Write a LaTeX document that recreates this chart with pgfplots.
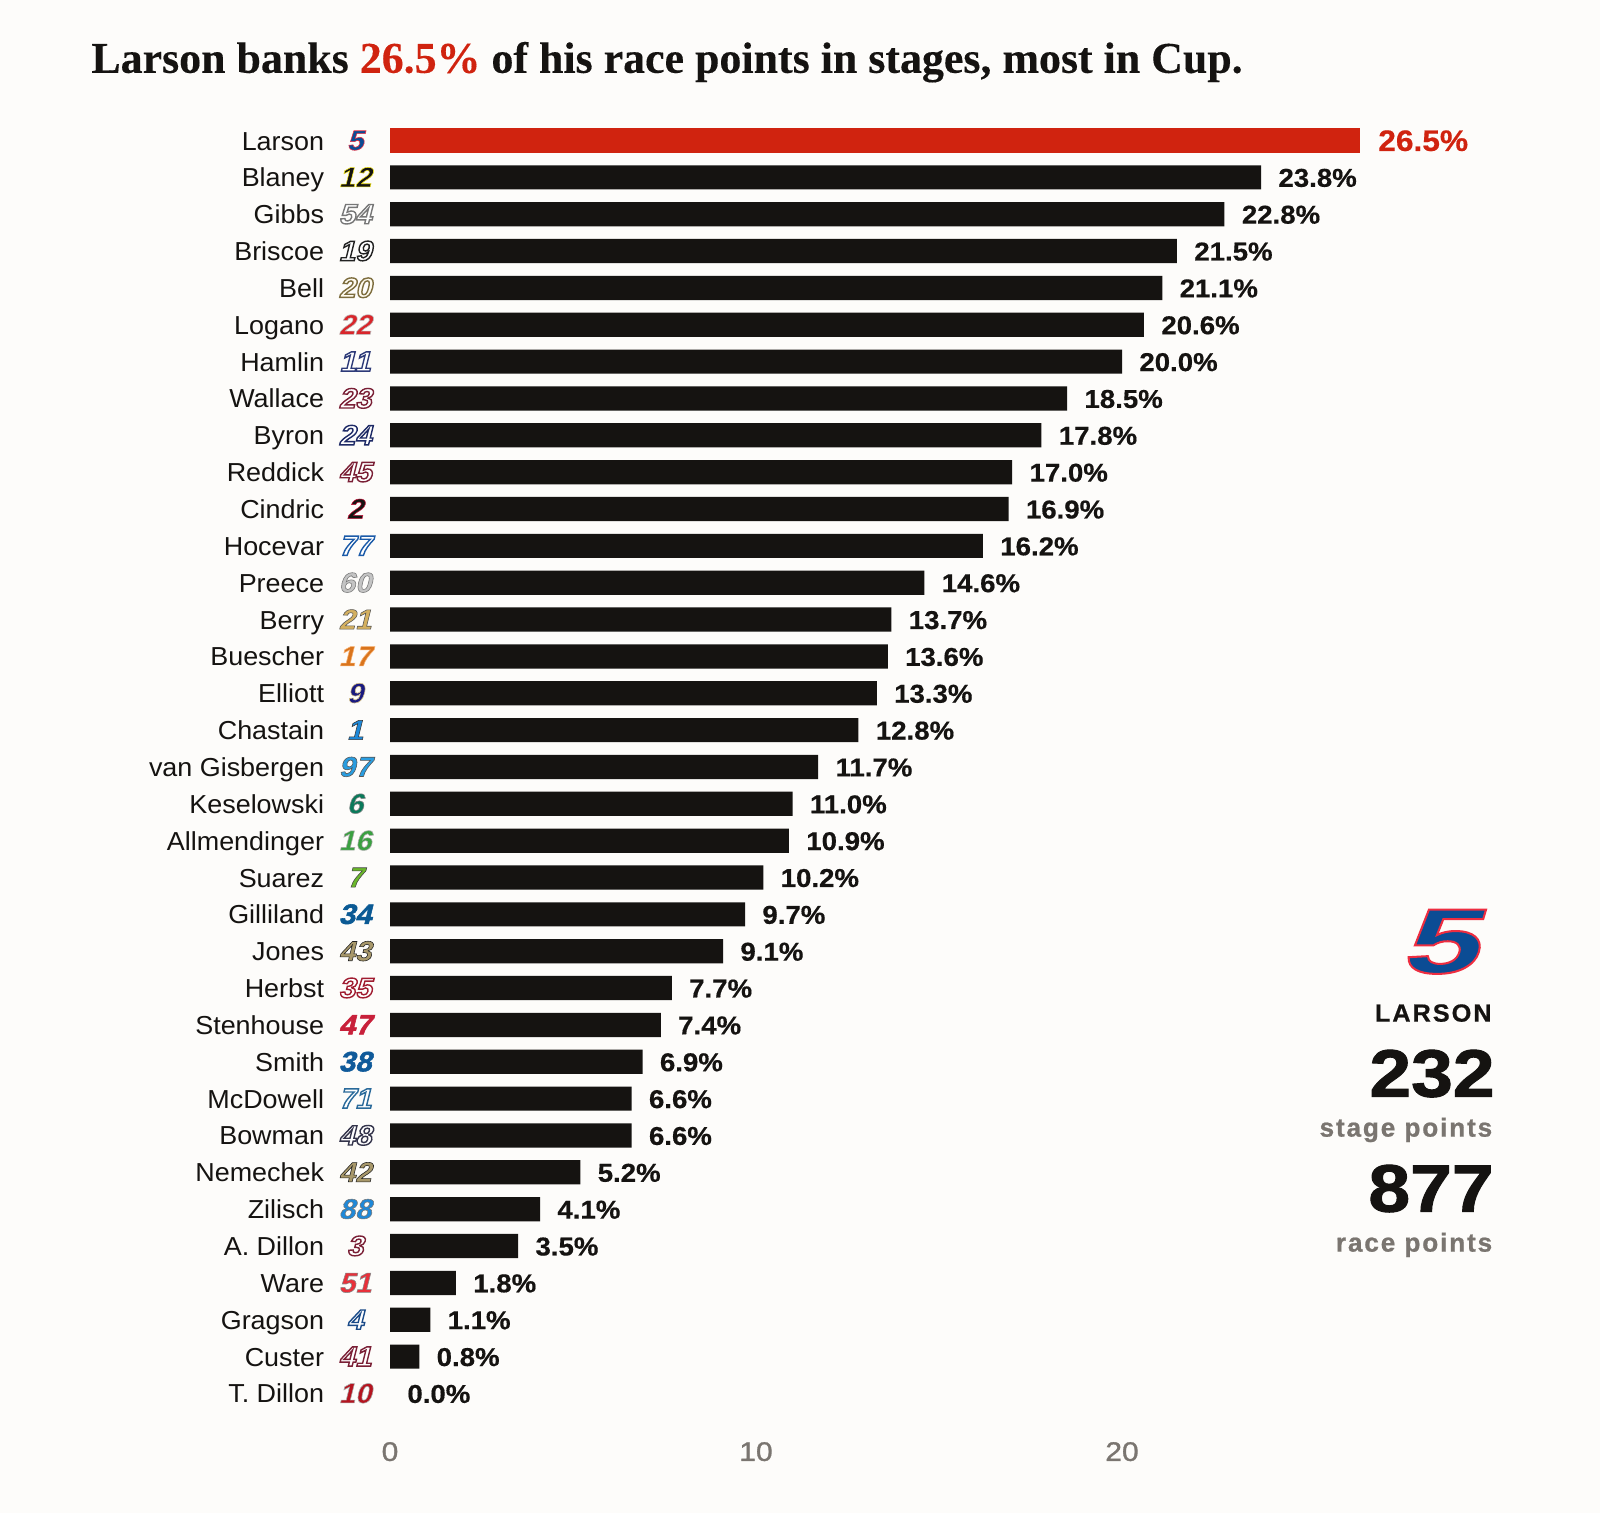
\documentclass[border=0pt]{standalone}
\usepackage{fontspec}
\usepackage{pgfplots}
\pgfplotsset{compat=1.18}
\setmainfont{Liberation Sans}
\newfontface\titlefont{Liberation Serif Bold}[FakeBold=0.25]
\newfontface\namefont{Liberation Sans}[FakeStretch=1.035]
\newfontface\valfont{Liberation Sans Bold}[FakeStretch=1.07,FakeBold=0.5]
\newfontface\tickfont{Liberation Sans}[FakeStretch=1.12,FakeBold=1.2]
\newfontface\capsfont{Liberation Sans Bold}[LetterSpace=8,FakeStretch=1.02,FakeBold=0.6]
\newfontface\bignum{Liberation Sans Bold}[FakeStretch=1.12,FakeBold=1.5]
\newfontface\subfont{Liberation Sans Bold}[LetterSpace=7,FakeBold=0.8]
\newfontface\badgeO{Liberation Sans Bold}[FakeStretch=1.05,FakeSlant=0.25,FakeBold=5]
\newfontface\badgeT{Liberation Sans Bold}[FakeStretch=1.05,FakeSlant=0.25,FakeBold=2]
\newfontface\logoO{Liberation Sans Bold}[FakeStretch=1.5,FakeSlant=0.3,FakeBold=2.2]
\definecolor{bg}{HTML}{FDFCFA}
\definecolor{ink}{HTML}{151311}
\definecolor{hot}{HTML}{D0230F}
\definecolor{mute}{HTML}{7A7570}
% a number with fill #1 and outline #2, set as one text
\def\spacedrgb#1,#2,#3\relax{#1 #2 #3}
\newcommand{\twotone}[3]{\convertcolorspec{HTML}{#1}{rgb}\tmpF\convertcolorspec{HTML}{#2}{rgb}\tmpS
  \edef\tmpF{\expandafter\spacedrgb\tmpF\relax}\edef\tmpS{\expandafter\spacedrgb\tmpS\relax}%
  \special{pdf:bcolor [\tmpF] [\tmpS]}#3\special{pdf:ecolor}}
% \nm: white number with a strong outline; \nt: solid number with a thin outline
\newcommand{\nm}[4]{#1\hspace{5.5pt}\makebox[20pt][c]{\fontsize{14}{14}\badgeO\twotone{#2}{#3}{#4}}}
\newcommand{\nt}[4]{#1\hspace{5.5pt}\makebox[20pt][c]{\fontsize{14}{14}\badgeT\twotone{#2}{#3}{#4}}}
\begin{document}
\begin{tikzpicture}
\path[use as bounding box,fill=bg] (0,0) rectangle (800pt,-756.5pt);
\node[anchor=base west,inner sep=0,text=ink,font=\fontsize{21.95}{24}\titlefont] at (45.5pt,-36.4pt)
  {Larson banks \textcolor{hot}{26.5\%} of his race points in stages, most in Cup.};
\begin{axis}[
  at={(195pt,-61.05pt)},anchor=north west,
  scale only axis,width=549pt,height=644.875pt,
  xmin=0,xmax=30,ymin=-0.5,ymax=34.5,y dir=reverse,
  clip=false,
  axis line style={draw=none},
  major tick length=0pt,
  xtick={0,10,20},xticklabels={0,10,20},
  xticklabel style={anchor=base,text=mute,font=\fontsize{13.4}{14}\tickfont,yshift=-24.5pt},
  ytick={0,...,34},
  yticklabels={
   {\nt{Larson}{0B4C94}{EE2D40}{5}},{\nt{Blaney}{151311}{F2E51C}{12}},{\nm{Gibbs}{FFFFFF}{777777}{54}},
   {\nm{Briscoe}{FFFFFF}{222222}{19}},{\nm{Bell}{FFFBEF}{7D6D3E}{20}},{\nt{Logano}{D9252A}{BBBBBB}{22}},
   {\nm{Hamlin}{FFFFFF}{2D3A78}{11}},{\nm{Wallace}{FFFFFF}{7A1F35}{23}},{\nm{Byron}{FFFFFF}{1E2A66}{24}},
   {\nm{Reddick}{FFFFFF}{7A1F35}{45}},{\nt{Cindric}{151311}{C2143A}{2}},{\nm{Hocevar}{FFFFFF}{1A5AA8}{77}},
   {\nt{Preece}{C4C4C4}{777777}{60}},{\nt{Berry}{D4B060}{555555}{21}},{\nt{Buescher}{D9741C}{F7B070}{17}},
   {\nt{Elliott}{1A1A80}{D9C48A}{9}},{\nt{Chastain}{1E88D8}{333333}{1}},{\nt{van Gisbergen}{2A9DE0}{555555}{97}},
   {\nt{Keselowski}{0A7A5A}{888888}{6}},{\nt{Allmendinger}{3AA040}{AAAAAA}{16}},{\nt{Suarez}{6AB82A}{444444}{7}},
   {\nt{Gilliland}{0B5A94}{0B5A94}{34}},{\nt{Jones}{A8986A}{222222}{43}},{\nm{Herbst}{FFFFFF}{A01C30}{35}},
   {\nt{Stenhouse}{C8203A}{C8203A}{47}},{\nt{Smith}{0F5A9A}{0F5A9A}{38}},{\nm{McDowell}{FFFFFF}{2A6A9A}{71}},
   {\nm{Bowman}{FFFFFF}{33334A}{48}},{\nt{Nemechek}{A8986A}{222222}{42}},{\nt{Zilisch}{1E88D8}{777777}{88}},
   {\nm{A. Dillon}{FFFFFF}{7A1F35}{3}},{\nt{Ware}{E8303A}{888888}{51}},{\nm{Gragson}{FFFFFF}{1A4A88}{4}},
   {\nm{Custer}{FFFFFF}{7A1F35}{41}},{\nt{T. Dillon}{B5141F}{AAAAAA}{10}}},
  yticklabel style={anchor=base east,text=ink,font=\fontsize{13}{14}\namefont,yshift=-4.75pt,xshift=-3.95pt},
  /pgf/number format/fixed,/pgf/number format/fixed zerofill,/pgf/number format/precision=1,
  /pgf/number format/assume math mode=true,
  nodes near coords={\pgfmathprintnumber{\pgfplotspointmeta}\%},
  point meta=x,
  nodes near coords align=horizontal,
]
\addplot[xbar,bar shift=0pt,bar width=12.1pt,fill=hot,draw=none,
  every node near coord/.append style={anchor=base west,inner sep=0,text=hot,xshift=9pt,yshift=-5.2pt,font=\fontsize{14.8}{16}\valfont}]
 coordinates {(26.5,0)};
\addplot[xbar,bar shift=0pt,bar width=12.1pt,fill=ink,draw=none,
  every node near coord/.append style={anchor=base west,inner sep=0,text=ink,xshift=8.5pt,yshift=-4.7pt,font=\fontsize{12.9}{14}\valfont}]
 coordinates {(23.8,1)(22.8,2)(21.5,3)(21.1,4)(20.6,5)(20.0,6)(18.5,7)(17.8,8)(17.0,9)(16.9,10)
 (16.2,11)(14.6,12)(13.7,13)(13.6,14)(13.3,15)(12.8,16)(11.7,17)(11.0,18)(10.9,19)(10.2,20)
 (9.7,21)(9.1,22)(7.7,23)(7.4,24)(6.9,25)(6.6,26)(6.6,27)(5.2,28)(4.1,29)(3.5,30)(1.8,31)(1.1,32)(0.8,33)};
\addplot[xbar,bar shift=0pt,bar width=12.1pt,fill=none,draw=none,
  every node near coord/.append style={anchor=base west,inner sep=0,text=ink,xshift=8.5pt,yshift=-4.7pt,font=\fontsize{12.9}{14}\valfont}]
 coordinates {(0.0,34)};
\end{axis}
\node[anchor=base,inner sep=0,font=\fontsize{46}{48}\logoO] at (719pt,-486.5pt) {\twotone{0B4C94}{EE2D40}{5}};
\node[anchor=base east,inner sep=0,text=ink,font=\fontsize{12.4}{14}\capsfont] at (746pt,-510.8pt) {LARSON};
\node[anchor=base east,inner sep=0,text=ink,font=\fontsize{33.5}{36}\bignum] at (747.5pt,-548.3pt) {232};
\node[anchor=base east,inner sep=0,text=mute,font=\fontsize{13.1}{14}\subfont] at (746.3pt,-568.3pt) {stage points};
\node[anchor=base east,inner sep=0,text=ink,font=\fontsize{33.5}{36}\bignum] at (747pt,-605.8pt) {877};
\node[anchor=base east,inner sep=0,text=mute,font=\fontsize{13.1}{14}\subfont] at (746.3pt,-625.8pt) {race points};
\end{tikzpicture}
\end{document}
